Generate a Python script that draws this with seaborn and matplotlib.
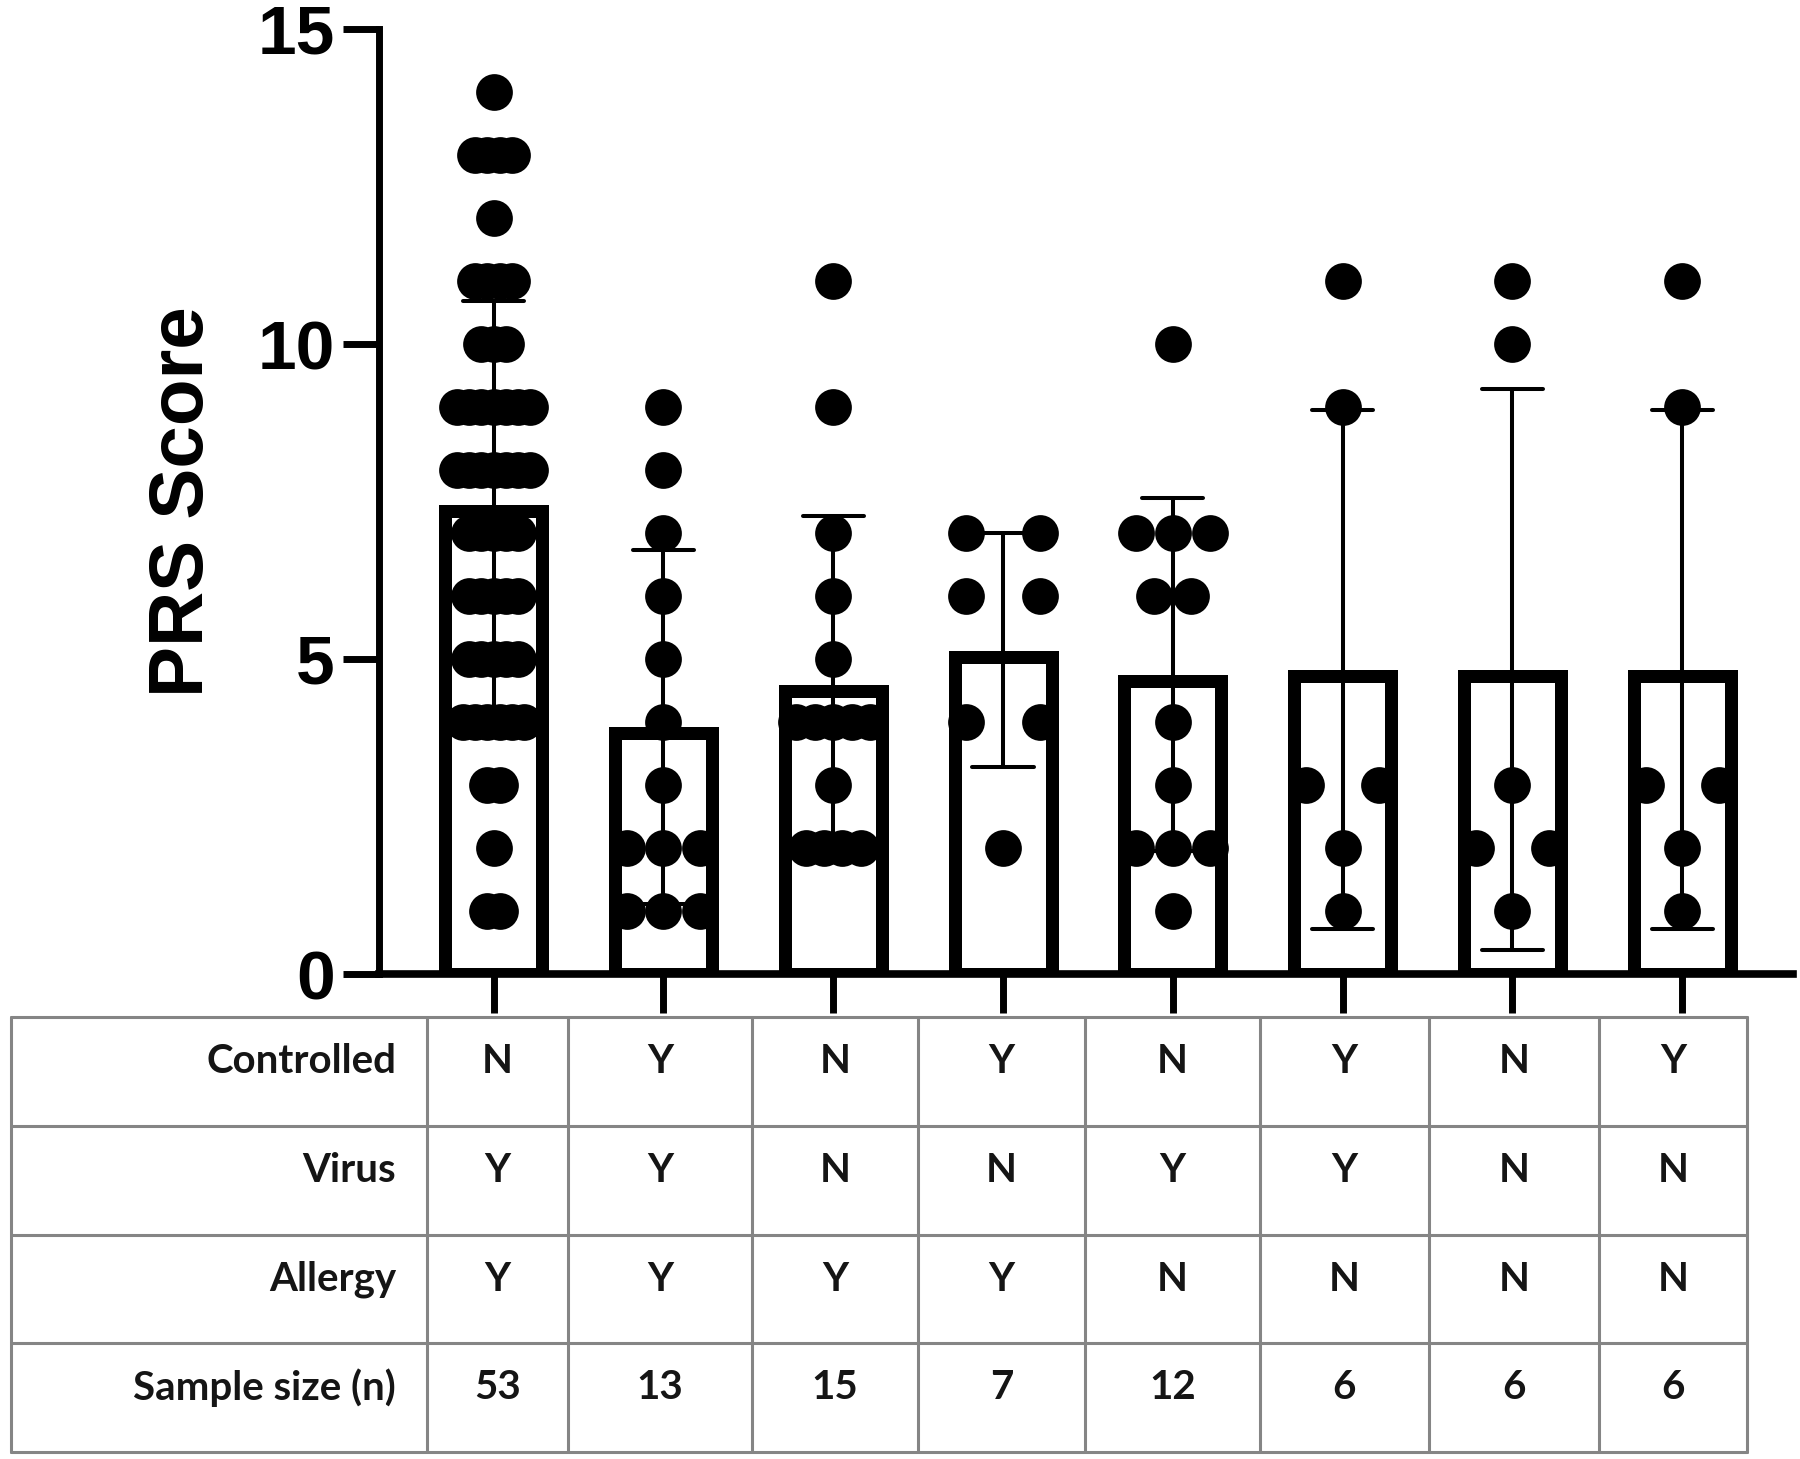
import numpy as np
import pandas as pd
import matplotlib.pyplot as plt
import seaborn as sns
from collections import Counter

# ---- data ----
groups = ["G1", "G2", "G3", "G4", "G5", "G6", "G7", "G8"]

prs_g1 = [14, 13, 13, 13, 13, 12, 11, 11, 11, 11, 10, 10, 10,
          9, 9, 9, 9, 9, 9, 9, 8, 8, 8, 8, 8, 8, 8,
          7, 7, 7, 7, 7, 6, 6, 6, 6, 6, 5, 5, 5, 5, 5,
          4, 4, 4, 4, 4, 4, 3, 3, 2, 1, 1]
prs_g2 = [9, 8, 7, 6, 5, 4, 3, 2, 2, 2, 1, 1, 1]
prs_g3 = [11, 9, 7, 6, 5, 4, 4, 4, 4, 4, 3, 2, 2, 2, 2]
prs_g4 = [7, 7, 6, 6, 4, 4, 2]
prs_g5 = [10, 7, 7, 7, 6, 6, 4, 3, 2, 2, 2, 1]
prs_g6 = [11, 9, 3, 3, 2, 1]
prs_g7 = [11, 10, 3, 2, 2, 1]
prs_g8 = [11, 9, 3, 3, 2, 1]

row_labels = ["Controlled", "Virus", "Allergy", "Sample size (n)"]
controlled = ["N", "Y", "N", "Y", "N", "Y", "N", "Y"]
virus = ["Y", "Y", "N", "N", "Y", "Y", "N", "N"]
allergy = ["Y", "Y", "Y", "Y", "N", "N", "N", "N"]
sample_size = ["53", "13", "15", "7", "12", "6", "6", "6"]


def dot_offsets(values, spread=0.433):
    """spread tied scores side by side like a scatter dot plot"""
    counts = Counter(values)
    kmax = max(counts.values())
    step = spread / (kmax - 1) if kmax > 1 else 0.0
    seen = Counter()
    out = []
    for v in values:
        i = seen[v]
        seen[v] += 1
        out.append((i - (counts[v] - 1) / 2) * step)
    return out


all_scores = [prs_g1, prs_g2, prs_g3, prs_g4, prs_g5, prs_g6, prs_g7, prs_g8]
frames = []
for i, (g, vals) in enumerate(zip(groups, all_scores)):
    d = pd.DataFrame({"group": g, "score": vals})
    d["xpos"] = i + np.array(dot_offsets(vals))
    frames.append(d)
df = pd.concat(frames, ignore_index=True)

sns.set_style("ticks")
plt.rcParams["font.family"] = ["Liberation Sans", "DejaVu Sans"]
plt.rcParams["text.color"] = "black"

W, H = 1800, 1459
fig = plt.figure(figsize=(18, 14.59), dpi=100)
ax = fig.add_axes([379 / W, 1 - 974 / H, (1793 - 379) / W, (974 - 29) / H])
XLIM = (-0.675, 7.652)
YLIM = (0, 15)

bar_lw_px = 13
sns.barplot(data=df, x="group", y="score", order=groups, errorbar="sd",
            capsize=0.36, width=0.648, color="white", saturation=1,
            edgecolor="black", linewidth=bar_lw_px * 0.72,
            err_kws={"color": "black", "linewidth": 2.9}, ax=ax)

# GraphPad draws the bar border inside the bar: pull the outline in by half a line
ax_w_px = (1793 - 379)
ax_h_px = (974 - 29)
hx = bar_lw_px / 2 * (XLIM[1] - XLIM[0]) / ax_w_px
hy = bar_lw_px / 2 * (YLIM[1] - YLIM[0]) / ax_h_px
for p in ax.patches:
    p.set_x(p.get_x() + hx)
    p.set_width(p.get_width() - 2 * hx)
    p.set_height(p.get_height() - hy)

ax.scatter(df["xpos"], df["score"], s=700, color="black", linewidths=0,
           zorder=3)

ax.set_xlim(*XLIM)
ax.set_ylim(*YLIM)
ax.set_yticks([0, 5, 10, 15])
ax.set_xticks(range(len(groups)))
ax.set_xticklabels([])
ax.set_xlabel("")
ax.set_ylabel("PRS Score", fontsize=55, fontweight="bold", color="black")
ax.yaxis.set_label_coords(-0.113, 0.5)
sns.despine(ax=ax)
ax.spines["left"].set_linewidth(5)
ax.spines["bottom"].set_linewidth(5.5)
ax.spines["left"].set_color("black")
ax.spines["bottom"].set_color("black")
ax.tick_params(axis="y", length=26, width=5, pad=6, labelsize=50,
               color="black", labelcolor="black")
ax.tick_params(axis="x", length=28, width=5, color="black")
for t in ax.get_yticklabels():
    t.set_fontweight("bold")

# ---- table under the axis ----
col_widths = [416, 141, 184, 166, 167, 175, 169, 170, 148]
edges = np.concatenate([[0], np.cumsum(col_widths)])
tab = fig.add_axes([11 / W, 1 - 1452 / H, edges[-1] / W, (1452 - 1017) / H])
tab.set_xlim(0, edges[-1])
tab.set_ylim(len(row_labels), 0)
tab.axis("off")
grid_kw = dict(color="#858585", lw=2.2, clip_on=False)
for e in edges:
    tab.axvline(e, **grid_kw)
for r in range(len(row_labels) + 1):
    tab.axhline(r, **grid_kw)

txt_kw = dict(family=["Lato", "DejaVu Sans"], fontweight="bold",
              fontsize=29, color="#151515", va="center")
rows = [controlled, virus, allergy, sample_size]
for r, (lab, vals) in enumerate(zip(row_labels, rows)):
    y = r + 0.41
    tab.text(edges[1] - 31, y, lab, ha="right", **txt_kw)
    for c, v in enumerate(vals):
        tab.text((edges[c + 1] + edges[c + 2]) / 2, y, v, ha="center",
                 **txt_kw)

fig.savefig("out.png", dpi=100)
